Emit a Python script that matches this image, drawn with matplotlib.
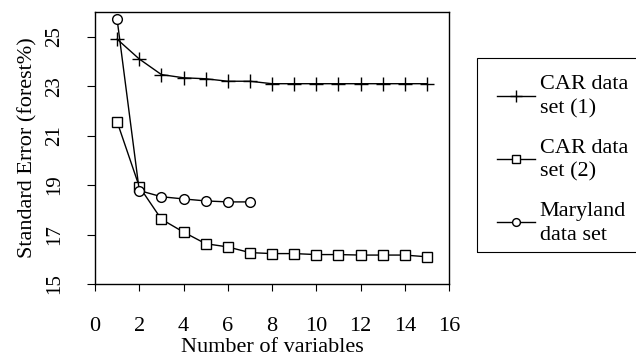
import matplotlib
matplotlib.use("Agg")
import matplotlib.pyplot as plt
from matplotlib.patches import Rectangle

x_car1 = list(range(1, 16))
car1 = [24.9, 24.1, 23.47, 23.34, 23.3, 23.2, 23.2, 23.1, 23.1, 23.1, 23.1, 23.1, 23.1, 23.1, 23.1]
x_car2 = list(range(1, 16))
car2 = [21.56, 18.94, 17.62, 17.1, 16.63, 16.5, 16.27, 16.23, 16.23, 16.19, 16.19, 16.17, 16.17, 16.17, 16.1]
x_md = list(range(1, 8))
maryland = [25.7, 18.78, 18.53, 18.44, 18.36, 18.32, 18.32]
labels = ["CAR data\nset (1)", "CAR data\nset (2)", "Maryland\ndata set"]
xticks = [0, 2, 4, 6, 8, 10, 12, 14, 16]
yticks = [15, 17, 19, 21, 23, 25]

plt.rcParams['font.family'] = ['Liberation Serif', 'DejaVu Serif']
W, H = 636, 363
fig = plt.figure(figsize=(W/100, H/100), dpi=100)
ax = fig.add_axes([95/W, 1-284/H, (449-95)/W, (284-12)/H])

lw = 1.0
ax.plot(x_car1, car1, color='black', lw=lw, marker='+', markersize=10, markeredgewidth=1.0, label=labels[0])
ax.plot(x_car2, car2, color='black', lw=lw, marker='s', markersize=7.5, markerfacecolor='white', markeredgewidth=1.0, label=labels[1])
ax.plot(x_md, maryland, color='black', lw=lw, marker='o', markersize=7, markerfacecolor='white', markeredgewidth=1.0, label=labels[2])

ax.set_xlim(0, 16)
ax.set_ylim(15, 26)
ax.set_xticks(xticks)
ax.set_yticks(yticks)
ax.set_xticklabels([str(v) for v in xticks], fontsize=16)
ax.set_yticklabels([str(v) for v in yticks], fontsize=15, rotation=90, va='center')
ax.tick_params(axis='x', direction='out', length=5, width=0.8, pad=19)
ax.tick_params(axis='y', direction='out', length=6, width=0.8, pad=16)
for s in ax.spines.values():
    s.set_linewidth(1.0)

ax.set_xlabel("Number of variables", fontsize=16, labelpad=1)
ax.set_ylabel("Standard Error (forest%)", fontsize=16, labelpad=6)

# legend box drawn separately
fig.patches.append(Rectangle((477/W, 1-252/H), (650-477)/W, (252-58)/H,
                             transform=fig.transFigure, fill=False,
                             edgecolor='black', linewidth=0.8))
leg = fig.legend(loc='upper left', bbox_to_anchor=(484/W, 1-62/H), fontsize=16,
                 frameon=False, handlelength=1.7, handletextpad=0.2,
                 labelspacing=0.9, borderpad=0.6, borderaxespad=0, markerscale=0.8)
for t in leg.get_texts():
    t.set_linespacing(1.35)

fig.savefig("out.png", dpi=100)
